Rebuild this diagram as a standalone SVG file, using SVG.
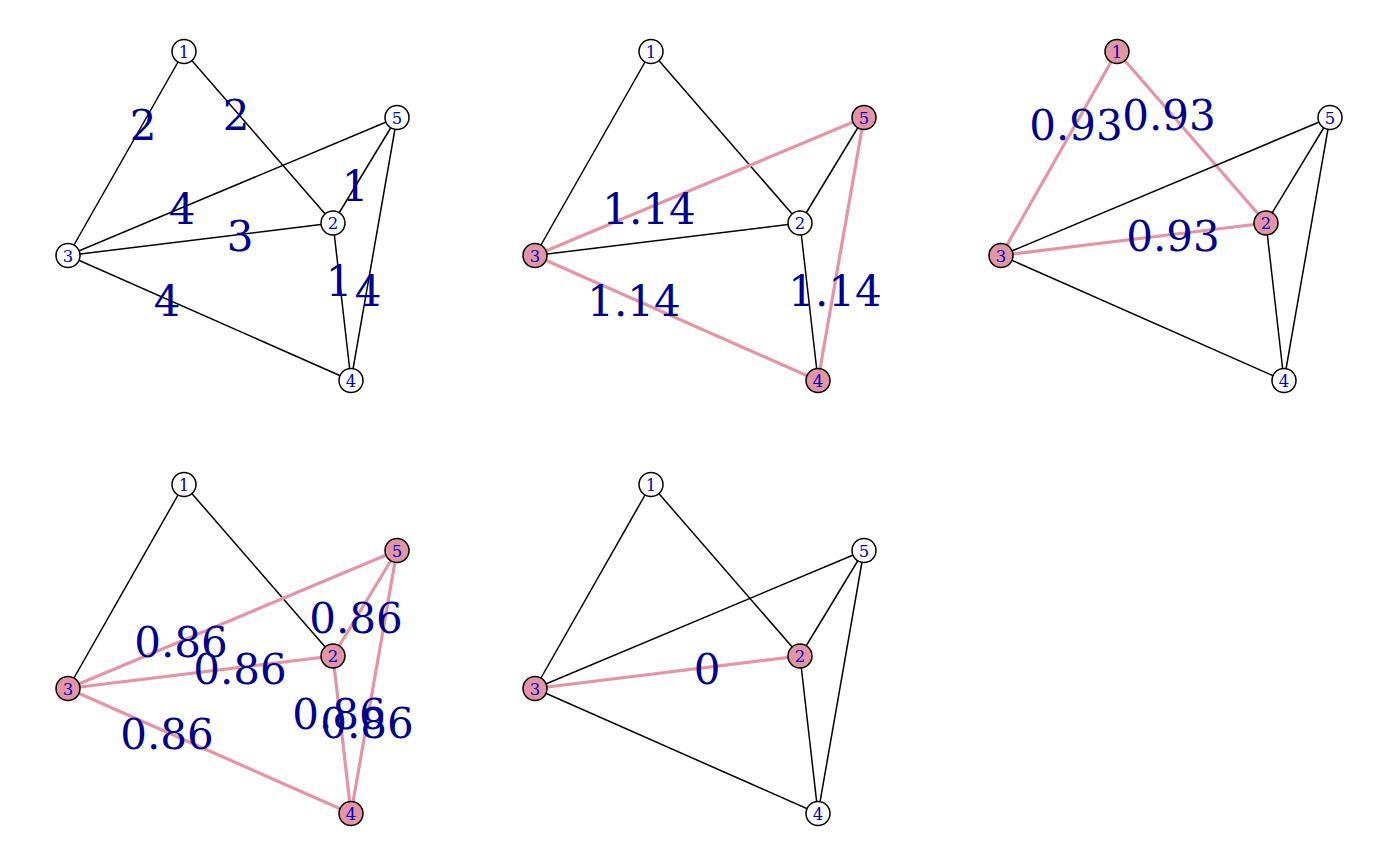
<svg xmlns="http://www.w3.org/2000/svg" width="1400" height="866" viewBox="0 0 1400 866">
<style>
.e{stroke:#000;stroke-width:1.5;fill:none}
.h{stroke:#E495A5;stroke-width:3.2;fill:none}
.n{fill:#fff;stroke:#000;stroke-width:1.5}
.np{fill:#E495A5;stroke:#000;stroke-width:1.5}
.nl{font-family:"DejaVu Serif",serif;font-size:16.5px;fill:#0000C0;text-anchor:middle}
.el{font-family:"DejaVu Serif",serif;font-size:42px;fill:#00008B;text-anchor:middle}
</style>
<rect width="1400" height="866" fill="#fff"/>

<!-- Panel 1 -->
<g id="panel1">
<g id="p1-edges">
<line class="e" x1="184" y1="51.5" x2="68" y2="255.5"/>
<line class="e" x1="184" y1="51.5" x2="333" y2="223"/>
<line class="e" x1="68" y1="255.5" x2="397" y2="117.5"/>
<line class="e" x1="68" y1="255.5" x2="333" y2="223"/>
<line class="e" x1="333" y1="223" x2="397" y2="117.5"/>
<line class="e" x1="68" y1="255.5" x2="351" y2="380.5"/>
<line class="e" x1="333" y1="223" x2="351" y2="380.5"/>
<line class="e" x1="397" y1="117.5" x2="351" y2="380.5"/>
<text class="el" x="143" y="139.5">2</text>
<text class="el" x="236" y="129.5">2</text>
<text class="el" x="355" y="200.5">1</text>
<text class="el" x="182" y="223.5">4</text>
<text class="el" x="240" y="250.5">3</text>
<text class="el" x="339" y="296">1</text>
<text class="el" x="368" y="305.5">4</text>
<text class="el" x="167" y="315.5">4</text>
</g>
<g id="p1-n1"><circle class="n" cx="184" cy="51.5" r="12"/><text class="nl" x="184" y="57.5">1</text></g>
<g id="p1-n2"><circle class="n" cx="333" cy="223" r="12"/><text class="nl" x="333" y="229">2</text></g>
<g id="p1-n3"><circle class="n" cx="68" cy="255.5" r="12"/><text class="nl" x="68" y="261.5">3</text></g>
<g id="p1-n4"><circle class="n" cx="351" cy="380.5" r="12"/><text class="nl" x="351" y="386.5">4</text></g>
<g id="p1-n5"><circle class="n" cx="397" cy="117.5" r="12"/><text class="nl" x="397" y="123.5">5</text></g>
</g>

<!-- Panel 2 -->
<g id="panel2" transform="translate(467,0)">
<g id="p2-edges">
<line class="e" x1="184" y1="51.5" x2="68" y2="255.5"/>
<line class="e" x1="184" y1="51.5" x2="333" y2="223"/>
<line class="h" x1="68" y1="255.5" x2="397" y2="117.5"/>
<line class="e" x1="68" y1="255.5" x2="333" y2="223"/>
<line class="e" x1="333" y1="223" x2="397" y2="117.5"/>
<line class="h" x1="68" y1="255.5" x2="351" y2="380.5"/>
<line class="e" x1="333" y1="223" x2="351" y2="380.5"/>
<line class="h" x1="397" y1="117.5" x2="351" y2="380.5"/>
<text class="el" x="182" y="223.5">1.14</text>
<text class="el" x="368" y="305.5">1.14</text>
<text class="el" x="167" y="315.5">1.14</text>
</g>
<g id="p2-n1"><circle class="n" cx="184" cy="51.5" r="12"/><text class="nl" x="184" y="57.5">1</text></g>
<g id="p2-n2"><circle class="n" cx="333" cy="223" r="12"/><text class="nl" x="333" y="229">2</text></g>
<g id="p2-n3"><circle class="np" cx="68" cy="255.5" r="12"/><text class="nl" x="68" y="261.5">3</text></g>
<g id="p2-n4"><circle class="np" cx="351" cy="380.5" r="12"/><text class="nl" x="351" y="386.5">4</text></g>
<g id="p2-n5"><circle class="np" cx="397" cy="117.5" r="12"/><text class="nl" x="397" y="123.5">5</text></g>
</g>

<!-- Panel 3 -->
<g id="panel3" transform="translate(933,0)">
<g id="p3-edges">
<line class="h" x1="184" y1="51.5" x2="68" y2="255.5"/>
<line class="h" x1="184" y1="51.5" x2="333" y2="223"/>
<line class="e" x1="68" y1="255.5" x2="397" y2="117.5"/>
<line class="h" x1="68" y1="255.5" x2="333" y2="223"/>
<line class="e" x1="333" y1="223" x2="397" y2="117.5"/>
<line class="e" x1="68" y1="255.5" x2="351" y2="380.5"/>
<line class="e" x1="333" y1="223" x2="351" y2="380.5"/>
<line class="e" x1="397" y1="117.5" x2="351" y2="380.5"/>
<text class="el" x="143" y="139.5">0.93</text>
<text class="el" x="236" y="129.5">0.93</text>
<text class="el" x="240" y="250.5">0.93</text>
</g>
<g id="p3-n1"><circle class="np" cx="184" cy="51.5" r="12"/><text class="nl" x="184" y="57.5">1</text></g>
<g id="p3-n2"><circle class="np" cx="333" cy="223" r="12"/><text class="nl" x="333" y="229">2</text></g>
<g id="p3-n3"><circle class="np" cx="68" cy="255.5" r="12"/><text class="nl" x="68" y="261.5">3</text></g>
<g id="p3-n4"><circle class="n" cx="351" cy="380.5" r="12"/><text class="nl" x="351" y="386.5">4</text></g>
<g id="p3-n5"><circle class="n" cx="397" cy="117.5" r="12"/><text class="nl" x="397" y="123.5">5</text></g>
</g>

<!-- Panel 4 -->
<g id="panel4" transform="translate(0,433)">
<g id="p4-edges">
<line class="e" x1="184" y1="51.5" x2="68" y2="255.5"/>
<line class="e" x1="184" y1="51.5" x2="333" y2="223"/>
<line class="h" x1="68" y1="255.5" x2="397" y2="117.5"/>
<line class="h" x1="68" y1="255.5" x2="333" y2="223"/>
<line class="h" x1="333" y1="223" x2="397" y2="117.5"/>
<line class="h" x1="68" y1="255.5" x2="351" y2="380.5"/>
<line class="h" x1="333" y1="223" x2="351" y2="380.5"/>
<line class="h" x1="397" y1="117.5" x2="351" y2="380.5"/>
<text class="el" x="356" y="199.5">0.86</text>
<text class="el" x="181" y="224">0.86</text>
<text class="el" x="240" y="250.5">0.86</text>
<text class="el" x="339" y="296">0.86</text>
<text class="el" x="367" y="304.5">0.86</text>
<text class="el" x="167" y="315.5">0.86</text>
</g>
<g id="p4-n1"><circle class="n" cx="184" cy="51.5" r="12"/><text class="nl" x="184" y="57.5">1</text></g>
<g id="p4-n2"><circle class="np" cx="333" cy="223" r="12"/><text class="nl" x="333" y="229">2</text></g>
<g id="p4-n3"><circle class="np" cx="68" cy="255.5" r="12"/><text class="nl" x="68" y="261.5">3</text></g>
<g id="p4-n4"><circle class="np" cx="351" cy="380.5" r="12"/><text class="nl" x="351" y="386.5">4</text></g>
<g id="p4-n5"><circle class="np" cx="397" cy="117.5" r="12"/><text class="nl" x="397" y="123.5">5</text></g>
</g>

<!-- Panel 5 -->
<g id="panel5" transform="translate(467,433)">
<g id="p5-edges">
<line class="e" x1="184" y1="51.5" x2="68" y2="255.5"/>
<line class="e" x1="184" y1="51.5" x2="333" y2="223"/>
<line class="e" x1="68" y1="255.5" x2="397" y2="117.5"/>
<line class="h" x1="68" y1="255.5" x2="333" y2="223"/>
<line class="e" x1="333" y1="223" x2="397" y2="117.5"/>
<line class="e" x1="68" y1="255.5" x2="351" y2="380.5"/>
<line class="e" x1="333" y1="223" x2="351" y2="380.5"/>
<line class="e" x1="397" y1="117.5" x2="351" y2="380.5"/>
<text class="el" x="240" y="250.5">0</text>
</g>
<g id="p5-n1"><circle class="n" cx="184" cy="51.5" r="12"/><text class="nl" x="184" y="57.5">1</text></g>
<g id="p5-n2"><circle class="np" cx="333" cy="223" r="12"/><text class="nl" x="333" y="229">2</text></g>
<g id="p5-n3"><circle class="np" cx="68" cy="255.5" r="12"/><text class="nl" x="68" y="261.5">3</text></g>
<g id="p5-n4"><circle class="n" cx="351" cy="380.5" r="12"/><text class="nl" x="351" y="386.5">4</text></g>
<g id="p5-n5"><circle class="n" cx="397" cy="117.5" r="12"/><text class="nl" x="397" y="123.5">5</text></g>
</g>
</svg>
